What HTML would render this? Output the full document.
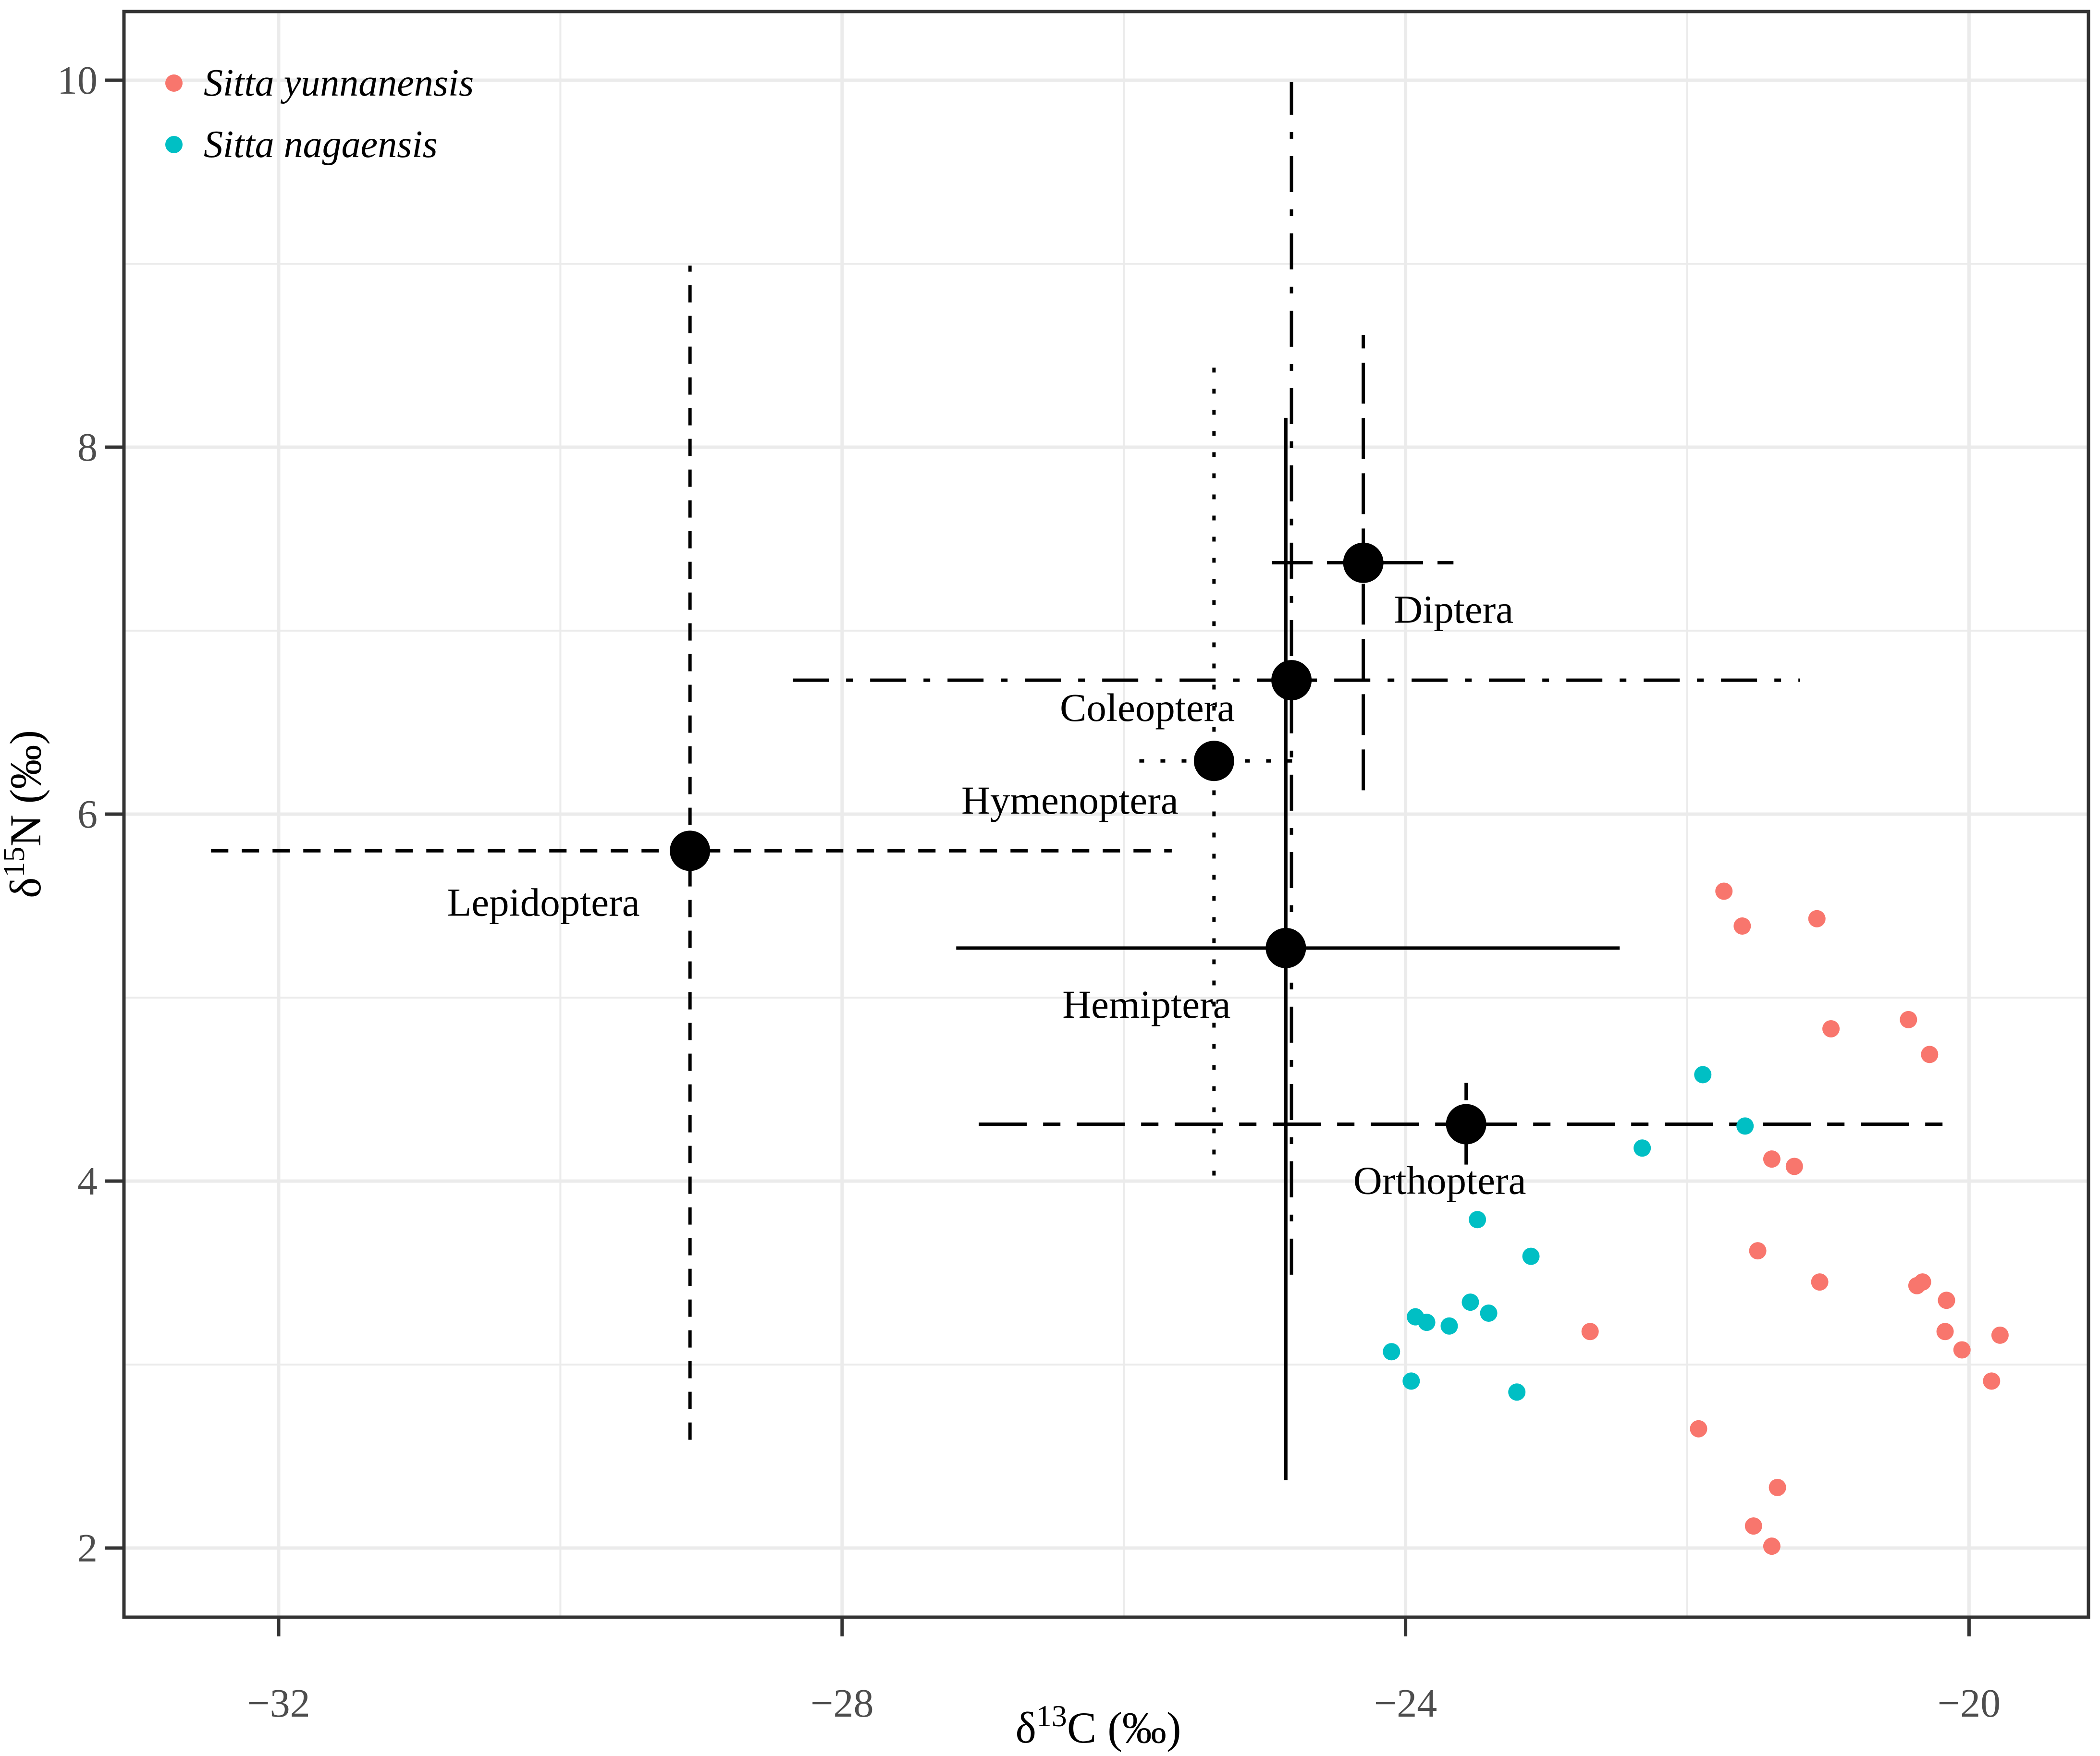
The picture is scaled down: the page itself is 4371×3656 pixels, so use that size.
<!DOCTYPE html>
<html><head><meta charset="utf-8"><style>
html,body{margin:0;padding:0;background:#fff;}
svg{display:block;font-family:"Liberation Serif",serif;}
</style></head><body>
<svg id="chart" width="4371" height="3656" viewBox="0 0 4371 3656" xmlns="http://www.w3.org/2000/svg">
<rect x="0" y="0" width="4371" height="3656" fill="#fff"/>
<g id="grid"></g>
<g id="bars"></g>
<g id="pts"></g>
<g id="labels"></g>
<rect x="258" y="24" width="4089" height="3343" fill="none" stroke="#333" stroke-width="7"/>
<g id="axes"></g>
<text x="2286" y="3628" font-size="92" text-anchor="middle" fill="#000">δ<tspan dy="-34" font-size="64">13</tspan><tspan dy="34">C (‰)</tspan></text>
<text transform="translate(84,1695) rotate(-90)" font-size="92" text-anchor="middle" fill="#000">δ<tspan dy="-34" font-size="64">15</tspan><tspan dy="34">N (‰)</tspan></text>
<g>
<circle cx="362" cy="173" r="18" fill="#F8766D"/>
<text x="424" y="199" font-size="80" font-style="italic" fill="#000">Sitta yunnanensis</text>
<circle cx="362" cy="301" r="18" fill="#00BFC4"/>
<text x="424" y="327" font-size="80" font-style="italic" fill="#000">Sitta nagaensis</text>
</g>
</svg>
<script>
const xTicks = [-32, -28, -24, -20];
const yTicks = [2, 4, 6, 8, 10];
const xMinor = [-30, -26, -22];
const yMinor = [3, 5, 7, 9];
const taxa = ["Diptera","Coleoptera","Hymenoptera","Lepidoptera","Hemiptera","Orthoptera"];
const taxaX = [-24.30, -24.81, -25.36, -29.08, -24.85, -23.57];
const taxaY = [7.37, 6.73, 6.29, 5.80, 5.27, 4.31];
const taxaXmin = [-24.95, -28.35, -25.89, -32.48, -27.19, -27.03];
const taxaXmax = [-23.66, -21.20, -24.74, -25.66, -22.48, -20.10];
const taxaYmin = [6.13, 3.49, 4.03, 2.59, 2.37, 4.09];
const taxaYmax = [8.61, 9.99, 8.49, 8.99, 8.16, 4.58];
const yunX = [-21.74,-21.61,-21.08,-20.98,-20.43,-20.28,-21.40,-21.24,-21.50,-21.06,-20.37,-20.33,-20.16,-22.69,-20.17,-19.78,-20.05,-19.84,-21.92,-21.36,-21.53,-21.40];
const yunY = [5.58,5.39,5.43,4.83,4.88,4.69,4.12,4.08,3.62,3.45,3.43,3.45,3.35,3.18,3.18,3.16,3.08,2.91,2.65,2.33,2.12,2.01];
const nagX = [-21.89,-21.59,-22.32,-23.49,-23.11,-23.54,-23.93,-23.85,-23.69,-23.41,-24.10,-23.96,-23.21];
const nagY = [4.58,4.30,4.18,3.79,3.59,3.34,3.26,3.23,3.21,3.28,3.07,2.91,2.85];

const NS = "http://www.w3.org/2000/svg";
const X = v => 580 + (v + 32) * 293.2;
const Y = v => 167 + (10 - v) * 382;
const L = 258, R = 4347, T = 24, B = 3367;
function mk(tag, attrs, parent){ const e=document.createElementNS(NS,tag); for(const k in attrs) e.setAttribute(k,attrs[k]); parent.appendChild(e); return e; }
const grid=document.getElementById('grid'), axes=document.getElementById('axes');
xMinor.forEach(v=>{ const e=mk('line',{x1:X(v),x2:X(v),y1:T,y2:B,stroke:'#ebebeb','stroke-width':4},grid);

 });
yMinor.forEach(v=>{ const e=mk('line',{x1:L,x2:R,y1:Y(v),y2:Y(v),stroke:'#ebebeb','stroke-width':4},grid);

 });
xTicks.forEach(v=>{ const e=mk('line',{x1:X(v),x2:X(v),y1:T,y2:B,stroke:'#ebebeb','stroke-width':7},grid);


const t=mk('line',{x1:X(v),x2:X(v),y1:B,y2:B+40,stroke:'#333','stroke-width':7},axes);


const tx=mk('text',{x:X(v),y:3574,'font-size':84,'text-anchor':'middle',fill:'#4d4d4d'},axes);
tx.textContent=(v<0?'\u2212'+(-v):v);

 });
yTicks.forEach(v=>{ const e=mk('line',{x1:L,x2:R,y1:Y(v),y2:Y(v),stroke:'#ebebeb','stroke-width':7},grid);


const t=mk('line',{x1:L-40,x2:L,y1:Y(v),y2:Y(v),stroke:'#333','stroke-width':7},axes);


const tx=mk('text',{x:L-55,y:Y(v)+28,'font-size':84,'text-anchor':'end',fill:'#4d4d4d'},axes);
tx.textContent=v;

 });
const dashes=["85,30","75,36,14,36","10,34","36,28","none","100,34,36,34"];
const lblDX=[188,-300,-300,-305,-290,-55];
const lblDY=[125,85,110,135,145,145];
const bars=document.getElementById('bars'), pts=document.getElementById('pts'), lbls=document.getElementById('labels');
taxa.forEach((n,i)=>{
 const h=mk('line',{x1:X(taxaXmin[i]),x2:X(taxaXmax[i]),y1:Y(taxaY[i]),y2:Y(taxaY[i]),stroke:'#000','stroke-width':7,'stroke-dasharray':dashes[i]},bars);
 
 
 const v=mk('line',{x1:X(taxaX[i]),x2:X(taxaX[i]),y1:Y(taxaYmin[i]),y2:Y(taxaYmax[i]),stroke:'#000','stroke-width':7,'stroke-dasharray':dashes[i]},bars);
 
 
 const c=mk('circle',{cx:X(taxaX[i]),cy:Y(taxaY[i]),r:42,fill:'#000'},pts);
 
 
 const t=mk('text',{x:X(taxaX[i])+lblDX[i],y:Y(taxaY[i])+lblDY[i],'font-size':83,'text-anchor':'middle',fill:'#000'},lbls);
 t.textContent=n;
 
 
});
yunX.forEach((x,i)=>{ const c=mk('circle',{cx:X(x),cy:Y(yunY[i]),r:18,fill:'#F8766D'},pts);

 });
nagX.forEach((x,i)=>{ const c=mk('circle',{cx:X(x),cy:Y(nagY[i]),r:18,fill:'#00BFC4'},pts);

 });
</script>
</body></html>
